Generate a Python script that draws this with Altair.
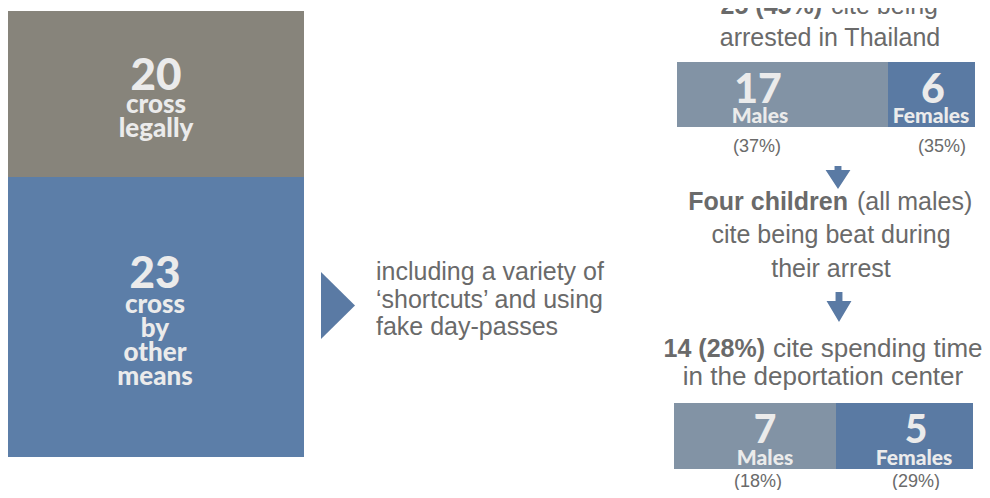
import altair as alt
import pandas as pd

# ---------------- data ----------------
cross_categories = ["cross legally", "cross by other means"]
cross_counts = [20, 23]
cross_label_lines = [["cross", "legally"], ["cross", "by", "other", "means"]]

arrest_groups = ["Males", "Females"]
arrest_counts = [17, 6]
arrest_pcts = ["(37%)", "(35%)"]

detention_groups = ["Males", "Females"]
detention_counts = [7, 5]
detention_pcts = ["(18%)", "(29%)"]

arrest_head_bold = "25 (45%)"
arrest_head_rest = ["cite being", "arrested in Thailand"]
beat_bold = "Four children"
beat_rest = ["(all males)", "cite being beat during", "their arrest"]
detention_head_bold = "14 (28%)"
detention_head_rest = ["cite spending time", "in the deportation center"]
shortcut_lines = ["including a variety of", "\u2018shortcuts\u2019 and using", "fake day-passes"]

# ---------------- styles / layout ----------------
W, H = 974, 482
GREY_BOX = "#87847b"
BLUE_BOX = "#5c7ea8"
MALE_BAR = "#8293a5"
FEMALE_BAR = "#5a7aa3"
ARROW = "#5a7aa4"
WHITE_TXT = "#ebebeb"
GREY_TXT = "#6a6a6a"
COND = "Lato, 'Liberation Sans', sans-serif"
REG = "'Liberation Sans', Arial, sans-serif"

# frame scales: page pixel coordinates -> plot coordinates
FX = alt.Scale(domain=[8, 8 + W], range=[0, W])
FY = alt.Scale(domain=[8, 8 + H], range=[0, H])


def frame_enc():
    return dict(
        x=alt.X("px:Q", scale=FX, axis=None),
        y=alt.Y("py:Q", scale=FY, axis=None),
        text=alt.Text("label:N"),
        size=alt.Size("fs:Q", scale=None, legend=None),
    )


# ----- left stacked block -----
left_df = pd.DataFrame({"cat": cross_categories, "n": cross_counts, "order": range(len(cross_counts))})
left_bar = (
    alt.Chart(left_df)
    .transform_window(top="sum(n)", sort=[alt.SortField("order")], frame=[None, 0])
    .transform_calculate(bot="datum.top - datum.n")
    .mark_rect()
    .encode(
        y=alt.Y("bot:Q", scale=alt.Scale(domain=[0, cross_counts[0], sum(cross_counts)], range=[3, 169, 449]), axis=None),
        y2="top:Q",
        x=alt.value(0),
        x2=alt.value(296),
        color=alt.Color("cat:N", scale=alt.Scale(domain=cross_categories, range=[GREY_BOX, BLUE_BOX]), legend=None),
    )
)


def split_bar(groups, counts, xr, y0, y1):
    df = pd.DataFrame({"g": groups, "n": counts, "order": range(len(counts))})
    return (
        alt.Chart(df)
        .transform_window(right="sum(n)", sort=[alt.SortField("order")], frame=[None, 0])
        .transform_calculate(left="datum.right - datum.n")
        .mark_rect()
        .encode(
            x=alt.X("left:Q", scale=alt.Scale(domain=[0, counts[0], sum(counts)], range=xr), axis=None),
            x2="right:Q",
            y=alt.value(y0 - 8),
            y2=alt.value(y1 - 8),
            color=alt.Color("g:N", scale=alt.Scale(domain=groups, range=[MALE_BAR, FEMALE_BAR]), legend=None),
        )
    )


top_bar = split_bar(arrest_groups, arrest_counts, [669, 880, 967], 62, 127)
bot_bar = split_bar(detention_groups, detention_counts, [666, 828, 965], 403, 469)

# ----- white bold labels -----
white_rows = [
    (str(cross_counts[0]), 156, 90, 44),
    (cross_label_lines[0][0], 156, 113, 26),
    (cross_label_lines[0][1], 156, 137, 26),
    (str(cross_counts[1]), 155, 288, 44),
]
for i, ln in enumerate(cross_label_lines[1]):
    white_rows.append((ln, 155, 313 + 24 * i, 26))
white_rows += [
    (str(arrest_counts[0]), 758, 103, 41),
    (arrest_groups[0], 760, 123, 21),
    (str(arrest_counts[1]), 933, 103, 41),
    (arrest_groups[1], 931, 123, 21),
    (str(detention_counts[0]), 765, 443, 39),
    (detention_groups[0], 765, 465, 21),
    (str(detention_counts[1]), 916, 443, 39),
    (detention_groups[1], 914, 465, 21),
]
white_df = pd.DataFrame(white_rows, columns=["label", "px", "py", "fs"])
white_txt = alt.Chart(white_df).mark_text(
    align="center", baseline="alphabetic", font=COND, fontWeight=900, color=WHITE_TXT
).encode(**frame_enc())

# ----- grey regular centered -----
gc_rows = [
    (arrest_head_rest[1], 830, 46, 25),
    (beat_rest[1], 831, 243, 25),
    (beat_rest[2], 831, 277, 25),
    (detention_head_rest[1], 823, 385, 26),
    (arrest_pcts[0], 757, 152, 18),
    (arrest_pcts[1], 942, 152, 18),
    (detention_pcts[0], 758, 487, 18),
    (detention_pcts[1], 916, 487, 18),
]
gc_df = pd.DataFrame(gc_rows, columns=["label", "px", "py", "fs"])
grey_center = alt.Chart(gc_df).mark_text(
    align="center", baseline="alphabetic", font=REG, color=GREY_TXT
).encode(**frame_enc())

# ----- grey regular left aligned -----
gl_rows = [
    (arrest_head_rest[0], 831, 14, 25),
    (beat_rest[0], 857, 210, 25),
    (detention_head_rest[0], 773, 357, 26),
]
for i, ln in enumerate(shortcut_lines):
    gl_rows.append((ln, 376, 280 + 27.5 * i, 25))
gl_df = pd.DataFrame(gl_rows, columns=["label", "px", "py", "fs"])
grey_left = alt.Chart(gl_df).mark_text(
    align="left", baseline="alphabetic", font=REG, color=GREY_TXT
).encode(**frame_enc())

# ----- grey bold right aligned -----
gb_rows = [
    (arrest_head_bold, 822, 14, 25),
    (beat_bold, 848, 210, 25),
    (detention_head_bold, 765, 357, 25),
]
gb_df = pd.DataFrame(gb_rows, columns=["label", "px", "py", "fs"])
grey_bold = alt.Chart(gb_df).mark_text(
    align="right", baseline="alphabetic", font=REG, fontWeight="bold", color=GREY_TXT
).encode(**frame_enc())

# ----- arrows -----
arrow1_path = "M-0.3,-1 L0.3,-1 L0.3,-0.65 L1.08,-0.65 L0,1 L-1.08,-0.65 L-0.3,-0.65 Z"
arrow2_path = "M-0.23,-1 L0.23,-1 L0.23,-0.4 L0.83,-0.4 L0,1 L-0.83,-0.4 L-0.23,-0.4 Z"
tri_path = "M-0.507,-1 L0.507,0 L-0.507,1 Z"


def glyph(path, cx, cy, size):
    df = pd.DataFrame({"px": [cx], "py": [cy]})
    return alt.Chart(df).mark_point(
        shape=path, filled=True, fill=ARROW, opacity=1, size=size, strokeWidth=0
    ).encode(x=alt.X("px:Q", scale=FX, axis=None), y=alt.Y("py:Q", scale=FY, axis=None))


arrow1 = glyph(arrow1_path, 838, 177.5, 23 * 23)
arrow2 = glyph(arrow2_path, 839, 307, 30 * 30)
tri = glyph(tri_path, 338, 305.5, 67 * 67)

chart = (
    alt.layer(left_bar, top_bar, bot_bar, tri, arrow1, arrow2, white_txt, grey_center, grey_left, grey_bold)
    .resolve_scale(x="independent", y="independent", color="independent", size="independent")
    .properties(width=W, height=H, padding=0, autosize=alt.AutoSizeParams(type="none"), background="white")
    .configure_view(stroke=None)
)

chart.save("out.html", embed_options={"renderer": "svg", "actions": False})
